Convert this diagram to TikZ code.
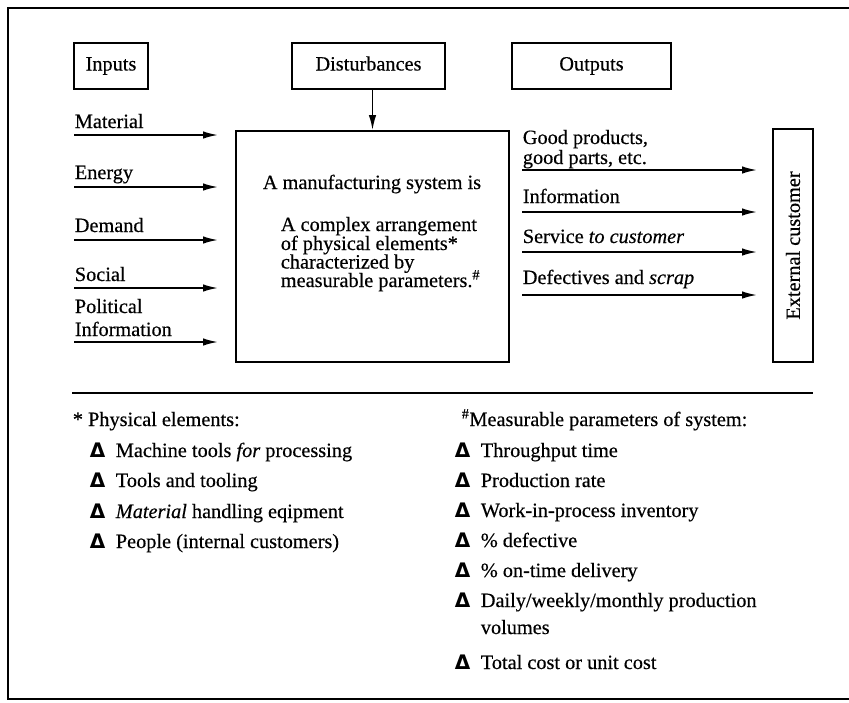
\documentclass[tikz,border=0pt]{standalone}
\usepackage{fontspec}
\setmainfont{Liberation Serif}[FakeBold=0.4]
\newfontfamily\deltafont{DejaVu Sans Bold}
\usetikzlibrary{arrows.meta}
\newcommand{\tri}{{\deltafont\fontsize{20}{20}\selectfont Δ}}
\begin{document}
\begin{tikzpicture}[x=1pt,y=-1pt,
  line width=1.7pt,
  every node/.style={font=\fontsize{20.3}{19}\selectfont, inner sep=0pt},
  hdrbox/.style={draw, rectangle, minimum height=46pt, text height=13pt, text depth=4pt},
  flow/.style={-{Latex[length=15pt,width=7.5pt]}},
  lbl/.style={anchor=base west},
]
\useasboundingbox (0,0) rectangle (849,702);
% outer frame (right edge runs off the page)
\begin{scope}
  \clip (0,0) rectangle (849,702);
  \draw (8,8) rectangle (870,699);
\end{scope}

% header boxes
\node[hdrbox, minimum width=74pt]  (inputs) at (111,66)   {Inputs};
\node[hdrbox, minimum width=153pt] (dist)   at (368.5,66) {Disturbances};
\node[hdrbox, minimum width=159pt] (outs)   at (591.5,66) {Outputs};

% the manufacturing system
\node[draw, minimum width=273pt, minimum height=231pt] (sys) at (372.5,246.5) {};
\node[anchor=base] (systitle) at (372,189) {A manufacturing system is};
\node[lbl] (d1) at (280,231) {A complex arrangement};
\node[lbl] (d2) at (280,250) {of physical elements*};
\node[lbl] (d3) at (280,268.5) {characterized by};
\node[lbl] (d4) at (280,287) {measurable parameters.\textsuperscript{\#}};

\draw[flow] (dist.south -| sys.north) -- (sys.north);

% external customer
\node[draw, rotate=90, minimum width=233pt, minimum height=40pt] (ext) at (793,245.5) {External customer};

% inputs
\foreach \n/\y in {1/135, 2/187, 3/240, 4/288, 5/342} {
  \coordinate (ins\n) at (74,\y);
  \coordinate (ine\n) at (218,\y);
  \draw[flow] (ins\n) -- (ine\n);
}
\node[lbl] (material) at (74,128) {Material};
\node[lbl] (energy)   at (74,179) {Energy};
\node[lbl] (demand)   at (74,232) {Demand};
\node[lbl] (social)   at (74,281) {Social};
\node[lbl] (polit)    at (74,313) {Political};
\node[lbl] (info)     at (74,336) {Information};

% outputs
\foreach \n/\y in {1/170, 2/212, 3/252, 4/295} {
  \coordinate (outs\n) at (522,\y);
  \coordinate (oute\n) at (757,\y);
  \draw[flow] (outs\n) -- (oute\n);
}
\node[lbl] (good1) at (522,144) {Good products,};
\node[lbl] (good2) at (522,164) {good parts, etc.};
\node[lbl] (oinfo) at (522,203) {Information};
\node[lbl] (serv)  at (522,243) {Service \textit{to customer}};
\node[lbl] (defs)  at (522,284) {Defectives and \textit{scrap}};

% separator
\coordinate (sepl) at (72,393);
\coordinate (sepr) at (813,393);
\draw (sepl) -- (sepr);

% physical elements
\node[lbl] (phys) at (72,426) {* Physical elements:};
\foreach \n/\y/\t in {1/457/{Machine tools \textit{for} processing},
                      2/487/{Tools and tooling},
                      3/518/{\textit{Material} handling eqipment},
                      4/548/{People (internal customers)}} {
  \node[lbl] (pt\n) at (89,\y) {\tri};
  \node[lbl] (pe\n) at (115,\y) {\t};
}

% measurable parameters
\node[lbl] (meas) at (461,426) {\textsuperscript{\#}Measurable parameters of system:};
\foreach \n/\y/\t in {1/457/{Throughput time},
                      2/487/{Production rate},
                      3/517/{Work-in-process inventory},
                      4/547/{\% defective},
                      5/577/{\% on-time delivery},
                      6/607/{Daily/weekly/monthly production},
                      7/669/{Total cost or unit cost}} {
  \node[lbl] (mt\n) at (454,\y) {\tri};
  \node[lbl] (me\n) at (480,\y) {\t};
}
\node[lbl] (vol) at (480,634) {volumes};
\end{tikzpicture}
\end{document}
